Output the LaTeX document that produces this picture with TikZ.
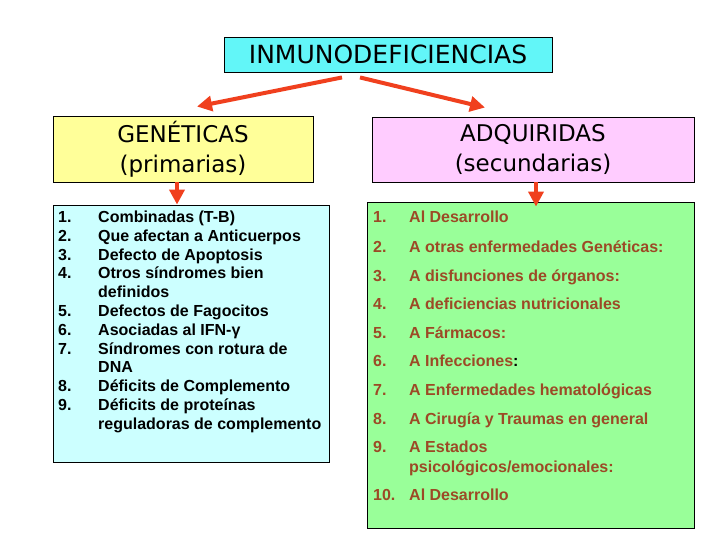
\documentclass[tikz,border=0pt]{standalone}
\usepackage{fontspec}
\setmainfont{Liberation Sans}
\newfontfamily\titlefont{DejaVu Sans}
\usetikzlibrary{arrows.meta,calc}
\definecolor{topcyan}{HTML}{62F6F8}
\definecolor{genyellow}{HTML}{FFFF99}
\definecolor{adqpink}{HTML}{FFCCFF}
\definecolor{listcyan}{HTML}{CCFFFF}
\definecolor{listgreen}{HTML}{99FF99}
\definecolor{itembrown}{HTML}{9C4A26}
\definecolor{arrowred}{HTML}{F0401E}
\begin{document}
\begin{tikzpicture}[x=1pt,y=-1pt,
  box/.style={draw=black,line width=0.9pt,inner sep=0pt},
  titletext/.style={font=\titlefont\fontsize{23}{30}\selectfont,align=center},
  redarrow/.style={draw=arrowred,line width=4pt,-{Triangle[length=15pt,width=15pt]}},
  itemtext/.style={anchor=base west,inner sep=0pt,font=\bfseries\fontsize{16}{19}\selectfont},
  leftitem/.style={itemtext,text=black},
  rightitem/.style={itemtext,text=itembrown}]
\useasboundingbox[fill=white] (0,0) rectangle (720,540);

% title boxes
\node[box,fill=topcyan,minimum width=328pt,minimum height=35pt,
      font=\titlefont\fontsize{25}{28}\selectfont] (top) at (388,54.5) {INMUNODEFICIENCIAS};
\node[box,fill=genyellow,minimum width=260pt,minimum height=66pt,titletext] (gen) at (183,149) {GENÉTICAS\\(primarias)};
\node[box,fill=adqpink,minimum width=322pt,minimum height=65pt,titletext] (adq) at (533,149.5) {ADQUIRIDAS\\(secundarias)};

% list boxes
\node[box,fill=listcyan,minimum width=276pt,minimum height=257pt] (glist) at (191,333.5) {};
\node[box,fill=listgreen,minimum width=327pt,minimum height=326pt] (alist) at (530.5,365) {};

% arrows
\draw[redarrow] ([xshift=-46pt,yshift=-5pt]top.south) -- ([xshift=14pt,yshift=9pt]gen.north);
\draw[redarrow] ([xshift=-28pt,yshift=-5pt]top.south) -- ([xshift=-48pt,yshift=9pt]adq.north);
\draw[redarrow] ([xshift=-6pt]gen.south) -- ([xshift=-6pt]gen.south |- glist.north);
\draw[redarrow] ([xshift=3pt]adq.south) -- ([xshift=3pt,yshift=-5pt]adq.south |- alist.north);

% left list: numbers
\foreach \k/\num in {0/1,1/2,2/3,3/4,5/5,6/6,7/7,9/8,10/9}
  \node[leftitem] (gn\num) at (58,{222.5+18.8*\k}) {\num.};
% left list: texts
\foreach \k/\txt in {0/Combinadas (T-B),
                     1/Que afectan a Anticuerpos,
                     2/Defecto de Apoptosis,
                     3/Otros síndromes bien,
                     4/definidos,
                     5/Defectos de Fagocitos,
                     6/Asociadas al IFN-γ,
                     7/Síndromes con rotura de,
                     8/DNA,
                     9/Déficits de Complemento,
                     10/Déficits de proteínas,
                     11/reguladoras de complemento}
  \node[leftitem] (gt\k) at (98,{222.5+18.8*\k}) {\txt};

% right list: numbers
\foreach \y/\num in {222.5/1,252.5/2,281/3,309.5/4,338/5,366.5/6,395/7,424/8,452.5/9,500.5/10}
  \node[rightitem] (an\num) at (373,\y) {\num.};
% right list: texts
\foreach \y/\name/\txt in {222.5/a1/Al Desarrollo,
                           252.5/a2/A otras enfermedades Genéticas:,
                           281/a3/A disfunciones de órganos:,
                           309.5/a4/A deficiencias nutricionales,
                           338/a5/A Fármacos:,
                           395/a7/A Enfermedades hematológicas,
                           424/a8/A Cirugía y Traumas en general,
                           452.5/a9/A Estados,
                           472.5/a9b/{psicológicos/emocionales:},
                           500.5/a10/Al Desarrollo}
  \node[rightitem] (\name) at (409,\y) {\txt};
\node[rightitem] (a6) at (409,366.5) {A Infecciones\textcolor{black}{:}};
\end{tikzpicture}
\end{document}
